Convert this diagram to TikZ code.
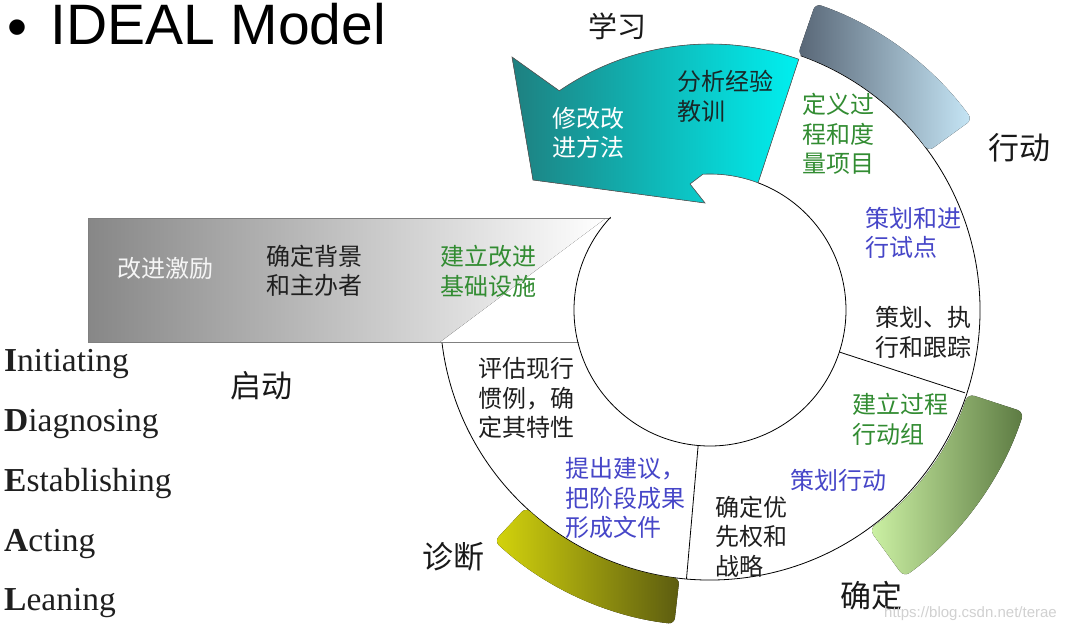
\documentclass[tikz,border=0pt]{standalone}
\usepackage{fontspec}
\setmainfont{Liberation Sans}
\newfontfamily\cjk{Noto Sans CJK SC}
\newfontfamily\serifL{Liberation Serif}
\usetikzlibrary{calc}
\definecolor{tgreen}{RGB}{50,140,50}
\definecolor{tblue}{RGB}{70,70,200}
\definecolor{tdark}{RGB}{25,40,40}
\definecolor{barL}{RGB}{135,135,135}
\definecolor{tealL}{RGB}{30,128,128}
\definecolor{tealR}{RGB}{0,240,240}
\definecolor{slateL}{RGB}{88,102,118}
\definecolor{slateR}{RGB}{198,230,246}
\definecolor{grnL}{RGB}{205,242,165}
\definecolor{grnR}{RGB}{92,122,66}
\definecolor{olvL}{RGB}{212,212,12}
\definecolor{olvR}{RGB}{92,92,16}
\tikzset{
  ring/.style={draw=black, line width=0.8pt},
  barline/.style={draw=black!50, line width=0.8pt},
  cjkt/.style={font=\cjk\fontsize{24}{29.5}\selectfont, align=left, inner sep=0pt, anchor=west},
  biglbl/.style={font=\cjk\fontsize{31}{31}\selectfont, inner sep=0pt, text=black!90},
  listt/.style={font=\serifL\fontsize{33.5}{33.5}\selectfont, inner sep=0pt, anchor=base west, text=black!88},
}
\begin{document}
\begin{tikzpicture}[x=1pt,y=-1pt]
\useasboundingbox (0,0) rectangle (1066,632);
\fill[white] (0,0) rectangle (1066,632);
\coordinate (C) at (710,310);

% grey bar
\fill[left color=barL, right color=white] (88,218) -- (606,218) -- (440,342) -- (88,342) -- cycle;
\draw[barline] (88,342) -- (88,218) -- (611,218);
\draw[barline] (88,342) -- (579,342);

% circles
\draw[ring] ([shift={(-187:270)}]C) arc[start angle=-187, end angle=-430.4, radius=270];
\draw[ring] ([shift={(-137:136)}]C) arc[start angle=-137, end angle=-429.3, radius=136];
\draw[ring] ([shift={(-265:136)}]C) -- ([shift={(-265:270)}]C);
\draw[ring] ([shift={(18:136)}]C) -- ([shift={(18:268)}]C);

% bands
\fill[left color=slateL, right color=slateR, rounded corners=6]
  ([shift={(-71:270)}]C) arc[start angle=-71, end angle=-36, radius=270]
  -- ([shift={(-36:324)}]C) arc[start angle=-36, end angle=-71, radius=324] -- cycle;
\fill[left color=grnL, right color=grnR, rounded corners=7]
  ([shift={(18:271)}]C) arc[start angle=18, end angle=54, radius=271]
  -- ([shift={(54:330)}]C) arc[start angle=54, end angle=18, radius=330] -- cycle;
\fill[left color=olvL, right color=olvR, rounded corners=6]
  ([shift={(-227:270)}]C) arc[start angle=-227, end angle=-263.5, radius=270]
  -- ([shift={(-263.5:316)}]C) arc[start angle=-263.5, end angle=-227, radius=316] -- cycle;

% curved arrow
\filldraw[left color=tealL, right color=tealR, draw=black!65, line width=0.6pt]
  (512,57) -- (559.3,90.8) arc[start angle=-124.5, end angle=-70.5, radius=266]
  -- ([shift={(-69.3:136)}]C) arc[start angle=-69.3, end angle=-93, radius=136]
  -- (690,184) -- (705,203) -- (533,180) -- cycle;

% title
\node[inner sep=0pt, anchor=base west, font=\fontsize{57}{57}\selectfont] (bul) at (7,46) {•};
\node[inner sep=0pt, anchor=base west, font=\fontsize{57}{57}\selectfont] (title) at (50,44) {IDEAL Model};

% stage labels
\node[biglbl, font=\cjk\fontsize{29}{29}\selectfont] (xuexi) at (617,26) {学习};
\node[biglbl] (xingdong) at (1019,148) {行动};
\node[biglbl] (qidong) at (261,386) {启动};
\node[biglbl] (zhenduan) at (453,557) {诊断};
\node[biglbl] (queding) at (871,596) {确定};

% arrow texts
\node[cjkt, text=white] (a1) at (552,133) {修改改\\进方法};
\node[cjkt, text=tdark] (a2) at (677,96.5) {分析经验\\教训};

% bar texts
\node[cjkt, text=black!4] (b1) at (117,268) {改进激励};
\node[cjkt, text=black!88] (b2) at (266,271) {确定背景\\和主办者};
\node[cjkt, text=tgreen] (b3) at (440,271.5) {建立改进\\基础设施};

% ring texts
\node[cjkt, text=tgreen] (r1) at (802,134) {定义过\\程和度\\量项目};
\node[cjkt, text=tblue] (r2) at (865,233) {策划和进\\行试点};
\node[cjkt, text=black!88] (r3) at (875,332.5) {策划、执\\行和跟踪};
\node[cjkt, text=tgreen] (r4) at (852,419.5) {建立过程\\行动组};
\node[cjkt, text=tblue] (r5) at (790,480) {策划行动};
\node[cjkt, text=black!88] (r6) at (715,536.5) {确定优\\先权和\\战略};
\node[cjkt, text=tblue] (r7) at (565,498) {提出建议，\\把阶段成果\\形成文件};
\node[cjkt, text=black!88] (r8) at (478,398) {评估现行\\惯例，确\\定其特性};

% left list
\node[listt] (l1) at (4,371) {\textbf{I}nitiating};
\node[listt] (l2) at (4,431) {\textbf{D}iagnosing};
\node[listt] (l3) at (4,491) {\textbf{E}stablishing};
\node[listt] (l4) at (4,551) {\textbf{A}cting};
\node[listt] (l5) at (4,610) {\textbf{L}eaning};

% watermark
\node[inner sep=0pt, anchor=east, text=black!18, font=\fontsize{15}{15}\selectfont] (wm) at (1057,614) {https://blog.csdn.net/terae};
\end{tikzpicture}
\end{document}
